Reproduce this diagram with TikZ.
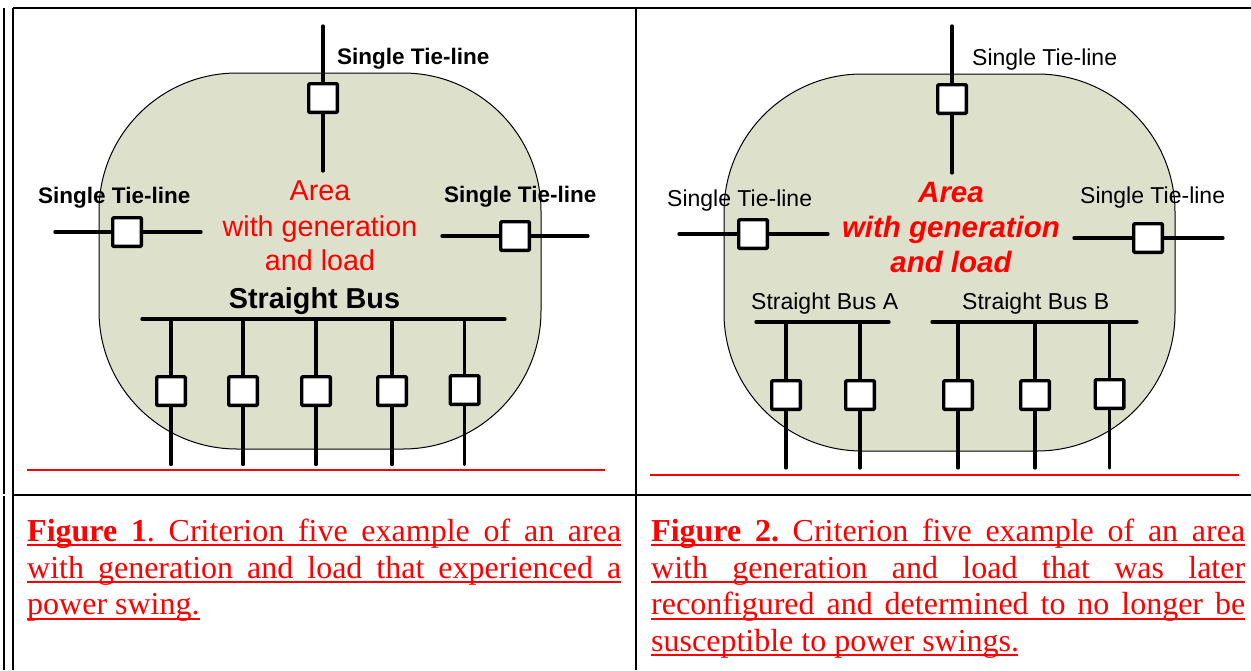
\documentclass[tikz,border=0pt]{standalone}
\usepackage{fontspec}
\setmainfont{Liberation Serif}
\newfontfamily\arialf{Liberation Sans}
\definecolor{blob}{HTML}{DDE1CC}
\newcommand{\capline}[1]{\hbox to 594pt{\frenchspacing #1}}
\tikzset{x=1pt,y=-1pt,
  tbl/.style={line width=2.2pt,black},
  area/.style={draw=black,line width=1pt,fill=blob},
  sw/.style={draw=black,fill=white,line width=3.4pt,minimum size=28.6pt,inner sep=0pt,rounded corners=1pt},
  wire/.style={draw=black,line width=3.3pt,line cap=round},
  redl/.style={draw=red,line width=2pt},
  ul/.style={draw=red,line width=2pt},
  lb/.style={inner sep=0pt,anchor=base west,font=\arialf\fontsize{23}{26}\selectfont},
  lbb/.style={inner sep=0pt,anchor=base west,font=\arialf\bfseries\fontsize{22.5}{26}\selectfont},
  ar/.style={inner sep=0pt,anchor=base,text=red,font=\arialf\fontsize{28.7}{32}\selectfont},
  arb/.style={inner sep=0pt,anchor=base,text=red,font=\arialf\bfseries\itshape\fontsize{29.5}{32}\selectfont},
  capt/.style={inner sep=0pt,anchor=base west,text=red,font=\fontsize{32}{36}\selectfont},
}
\begin{document}
\begin{tikzpicture}
\useasboundingbox (0,0) rectangle (1251,670);
% table
\draw[tbl] (4,8) -- (4,494) (4,496) -- (4,670);
\draw[tbl] (13,8) -- (13,670);
\draw[tbl] (13,8) -- (1251,8);
\draw[tbl] (636,8) -- (636,670);
\draw[tbl] (13,495) -- (1251,495);
% areas
\draw[area,rounded corners=138pt] (99,73) rectangle (541,449);
\draw[area,rounded corners=138pt] (724,74) rectangle (1175,451);
% Figure 1 switches
\node[sw] (at) at (323,98) {};
\node[sw] (al) at (127,232) {};
\node[sw] (ar) at (515,236) {};
\node[sw] (a1) at (171,391) {};
\node[sw] (a2) at (243,391) {};
\node[sw] (a3) at (316,391) {};
\node[sw] (a4) at (392,391) {};
\node[sw] (a5) at (464.5,390) {};
\coordinate (ats) at (323,26); \coordinate (ate) at (323,171);
\coordinate (als) at (55,232); \coordinate (ale) at (201,232);
\coordinate (ars) at (442,236); \coordinate (are) at (588,236);
\draw[wire] (ats) -- (at.north) (at.south) -- (ate);
\draw[wire] (als) -- (al.west) (al.east) -- (ale);
\draw[wire] (ars) -- (ar.west) (ar.east) -- (are);
\coordinate (abl) at (142,319); \coordinate (abr) at (505,319);
\draw[wire] (abl) -- (abr);
\foreach \n in {a1,a2,a3,a4,a5}{
  \draw[wire] (\n.north |- abl) -- (\n.north);
  \draw[wire] (\n.south) -- (\n.south |- 0,464.5);
}
\coordinate (ars1) at (27,470); \coordinate (are1) at (605,470);
\draw[redl] (ars1) -- (are1);
% Figure 1 text
\node[lbb] (l1) at (337,64) {Single Tie-line};
\node[lbb] (l2) at (38,203) {Single Tie-line};
\node[lbb] (l3) at (444,202) {Single Tie-line};
\node[ar] (t1) at (320,200) {Area};
\node[ar] (t2) at (320,236) {with generation};
\node[ar] (t3) at (320,270) {and load};
\node[inner sep=0pt,anchor=base,font=\arialf\bfseries\fontsize{28.8}{32}\selectfont] (b1) at (314.5,308) {Straight Bus};
% Figure 2 switches
\node[sw] (bt) at (952,99) {};
\node[sw] (bl) at (753,234) {};
\node[sw] (br) at (1148,238) {};
\node[sw] (b1s) at (786,395) {};
\node[sw] (b2s) at (860,395) {};
\node[sw] (b3s) at (958,395) {};
\node[sw] (b4s) at (1035,395) {};
\node[sw] (b5s) at (1109.5,394) {};
\coordinate (bts) at (952,26); \coordinate (bte) at (952,173);
\coordinate (bls) at (679,234); \coordinate (ble) at (828,234);
\coordinate (brs) at (1074,238); \coordinate (bre) at (1223,238);
\draw[wire] (bts) -- (bt.north) (bt.south) -- (bte);
\draw[wire] (bls) -- (bl.west) (bl.east) -- (ble);
\draw[wire] (brs) -- (br.west) (br.east) -- (bre);
\coordinate (bal) at (756,322); \coordinate (bar) at (889,322);
\coordinate (bbl) at (932,322); \coordinate (bbr) at (1137,322);
\draw[wire] (bal) -- (bar);
\draw[wire] (bbl) -- (bbr);
\foreach \n in {b1s,b2s,b3s,b4s,b5s}{
  \draw[wire] (\n.north |- bal) -- (\n.north);
  \draw[wire] (\n.south) -- (\n.south |- 0,468);
}
\coordinate (brs1) at (650,475); \coordinate (bre1) at (1239,475);
\draw[redl] (brs1) -- (bre1);
% Figure 2 text
\node[lb] (m1) at (972,65) {Single Tie-line};
\node[lb] (m2) at (667,206) {Single Tie-line};
\node[lb] (m3) at (1080,203) {Single Tie-line};
\node[arb] (u1) at (951,202) {Area};
\node[arb] (u2) at (951,237) {with generation};
\node[arb] (u3) at (951,272) {and load};
\node[lb] (sa) at (751,309) {Straight Bus A};
\node[lb] (sb) at (962,309) {Straight Bus B};
% captions
\node[capt] (c11) at (27,541) {\capline{\textbf{Figure 1}. Criterion five example of an area}};
\node[capt] (c12) at (27,578) {\capline{with generation and load that experienced a}};
\node[capt] (c13) at (27,614) {\frenchspacing power swing.};
\draw[ul] (c11.base west) ++(0,4) -- ++(594,0);
\draw[ul] (c12.base west) ++(0,4) -- ++(594,0);
\draw[ul] (c13.base west) ++(0,5) -- ++(173,0);
\node[capt] (c21) at (651,541) {\capline{\textbf{Figure 2.} Criterion five example of an area}};
\node[capt] (c22) at (651,578) {\capline{with generation and load that was later}};
\node[capt] (c23) at (651,614) {\capline{reconfigured and determined to no longer be}};
\node[capt] (c24) at (651,651) {\frenchspacing susceptible to power swings.};
\draw[ul] (c21.base west) ++(0,4) -- ++(594,0);
\draw[ul] (c22.base west) ++(0,4) -- ++(594,0);
\draw[ul] (c23.base west) ++(0,5) -- ++(594,0);
\draw[ul] (c24.base west) ++(0,4) -- ++(367,0);
\end{tikzpicture}
\end{document}
